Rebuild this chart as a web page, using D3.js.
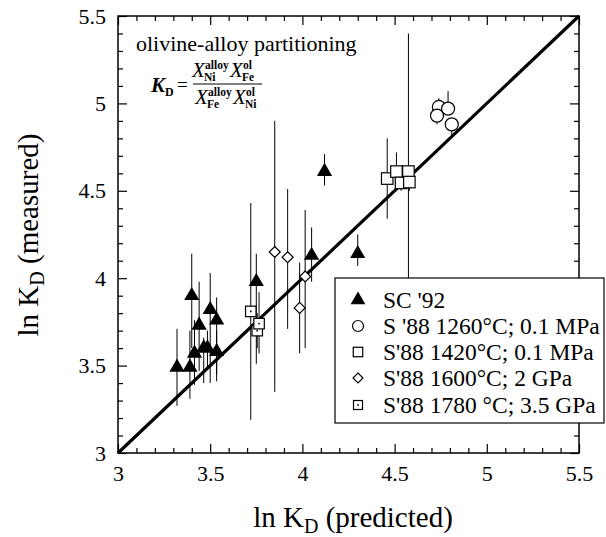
<!DOCTYPE html>
<meta charset="utf-8">
<style>
  body { margin: 0; background: #fff; }
  text { font-family: "Liberation Serif", "Times New Roman", serif; fill: #000; }
  .tick text { font-size: 22px; }
</style>
<svg width="606" height="537"></svg>
<script src="https://d3js.org/d3.v7.min.js"></script>
<script>
  // [predicted, measured, bar low, bar high]
  var sc92 = [
    [3.32, 3.49, 3.27, 3.71],
    [3.39, 3.49, 3.31, 3.70],
    [3.40, 3.90, 3.60, 4.14],
    [3.415, 3.57, 3.39, 3.76],
    [3.44, 3.73, 3.47, 3.98],
    [3.465, 3.60, 3.40, 3.66],
    [3.485, 3.60, 3.48, 3.70],
    [3.50, 3.82, 3.40, 4.03],
    [3.535, 3.76, 3.41, 3.89],
    [3.535, 3.58, 3.45, 3.70],
    [3.75, 3.98, 3.51, 4.14],
    [4.05, 4.13, 3.98, 4.29],
    [4.12, 4.61, 4.53, 4.71],
    [4.30, 4.14, 4.07, 4.25]
  ];
  var s88_1260 = [
    [4.74, 4.98, 4.95, 5.03],
    [4.79, 4.97, 4.95, 5.07],
    [4.73, 4.93, 4.88, 4.96],
    [4.81, 4.88, 4.81, 4.90]
  ];
  var s88_1420 = [
    [4.46, 4.57, 4.34, 4.80],
    [4.51, 4.61, 4.55, 4.72],
    [4.535, 4.545, 4.50, 4.58],
    [4.575, 4.61, 3.70, 5.40],
    [4.58, 4.55, 4.50, 4.58]
  ];
  var s88_1600 = [
    [3.85, 4.15, 3.35, 4.90],
    [3.92, 4.12, 3.71, 4.51],
    [4.015, 4.01, 3.60, 4.39],
    [3.985, 3.83, 3.57, 4.09]
  ];
  var s88_1780 = [
    [3.72, 3.81, 3.19, 4.43],
    [3.765, 3.74, 3.57, 3.92],
    [3.755, 3.70, 3.60, 3.80]
  ];
  var majorTicks = [3, 3.5, 4, 4.5, 5, 5.5];
  var legendLabels = ["SC '92", "S '88 1260\u00b0C; 0.1 MPa", "S'88 1420\u00b0C; 0.1 MPa",
                      "S'88 1600\u00b0C; 2 GPa", "S'88 1780 \u00b0C; 3.5 GPa"];

  var svg = d3.select("svg");
  var x = d3.scaleLinear().domain([3, 5.5]).range([118, 579]);
  var y = d3.scaleLinear().domain([3, 5.5]).range([453, 16]);
  var minorTicks = d3.range(30, 56).map(function(d) { return d / 10; })
    .filter(function(d) { return majorTicks.indexOf(d) < 0; });

  function addAxis(gen, tx, ty, ticks, size, labels) {
    var g = svg.append("g")
      .attr("transform", "translate(" + tx + "," + ty + ")")
      .call(gen.tickValues(ticks).tickSize(-size).tickPadding(labels ? 12 : 0)
        .tickFormat(labels ? d3.format("") : ""));
    g.select(".domain").remove();
    g.selectAll(".tick line").attr("stroke", "#000").attr("stroke-width", 1.2);
    return g;
  }
  // inward ticks on all four sides
  addAxis(d3.axisBottom(x), 0, 453, minorTicks, 5, false);
  addAxis(d3.axisBottom(x), 0, 453, majorTicks, 9, true);
  addAxis(d3.axisTop(x), 0, 16, minorTicks, 5, false);
  addAxis(d3.axisTop(x), 0, 16, majorTicks, 9, false);
  addAxis(d3.axisLeft(y), 118, 0, minorTicks, 5, false);
  addAxis(d3.axisLeft(y), 118, 0, majorTicks, 9, true);
  addAxis(d3.axisRight(y), 579, 0, minorTicks, 5, false);
  addAxis(d3.axisRight(y), 579, 0, majorTicks, 9, false);

  svg.append("rect")
    .attr("x", 118).attr("y", 16).attr("width", 461).attr("height", 437)
    .attr("fill", "none").attr("stroke", "#000").attr("stroke-width", 1.5);

  // error bars
  var all = sc92.concat(s88_1260, s88_1420, s88_1600, s88_1780);
  svg.append("g").selectAll("line").data(all).enter().append("line")
    .attr("x1", function(d) { return x(d[0]); })
    .attr("x2", function(d) { return x(d[0]); })
    .attr("y1", function(d) { return y(d[2]); })
    .attr("y2", function(d) { return y(d[3]); })
    .attr("stroke", "#000").attr("stroke-width", 1);

  // 1:1 line
  svg.append("line")
    .attr("x1", x(3)).attr("y1", y(3)).attr("x2", x(5.5)).attr("y2", y(5.5))
    .attr("stroke", "#000").attr("stroke-width", 3.2);

  function diamond(h) { return "M0," + (-h) + "L" + h + ",0L0," + h + "L" + (-h) + ",0Z"; }

  function drawTri(g, px, py, s) {
    g.append("path").attr("d", d3.symbol().type(d3.symbolTriangle).size(s)())
      .attr("transform", "translate(" + px + "," + py + ")").attr("fill", "#000");
  }
  function drawCircle(g, px, py, r) {
    g.append("circle").attr("cx", px).attr("cy", py).attr("r", r)
      .attr("fill", "#fff").attr("stroke", "#000").attr("stroke-width", 1.2);
  }
  function drawSquare(g, px, py, s) {
    g.append("rect").attr("x", px - s / 2).attr("y", py - s / 2).attr("width", s).attr("height", s)
      .attr("fill", "#fff").attr("stroke", "#000").attr("stroke-width", 1.2);
  }
  function drawDiamond(g, px, py, h) {
    g.append("path").attr("d", diamond(h)).attr("transform", "translate(" + px + "," + py + ")")
      .attr("fill", "#fff").attr("stroke", "#000").attr("stroke-width", 1.2);
  }
  function drawDotSquare(g, px, py, s) {
    drawSquare(g, px, py, s);
    g.append("rect").attr("x", px - 0.8).attr("y", py - 0.8).attr("width", 1.6).attr("height", 1.6)
      .attr("fill", "#000");
  }

  var marks = svg.append("g");
  s88_1600.forEach(function(d) { drawDiamond(marks, x(d[0]), y(d[1]), 5.5); });
  s88_1780.slice().reverse().forEach(function(d) { drawDotSquare(marks, x(d[0]), y(d[1]), 10.5); });
  s88_1420.forEach(function(d) { drawSquare(marks, x(d[0]), y(d[1]), 11.5); });
  s88_1260.forEach(function(d) { drawCircle(marks, x(d[0]), y(d[1]), 6.5); });
  sc92.forEach(function(d) { drawTri(marks, x(d[0]), y(d[1]), 100); });

  // legend
  var lg = svg.append("g");
  lg.append("rect").attr("x", 335).attr("y", 278).attr("width", 269).attr("height", 145)
    .attr("fill", "#fff").attr("stroke", "#000").attr("stroke-width", 1.2);
  var rowY = [300, 326, 352, 378, 405];
  drawTri(lg, 358, rowY[0], 95);
  drawCircle(lg, 358, rowY[1], 5.5);
  drawSquare(lg, 358, rowY[2], 9.5);
  drawDiamond(lg, 358, rowY[3], 5);
  drawDotSquare(lg, 358, rowY[4], 9);
  lg.selectAll("text.lab").data(legendLabels).enter().append("text")
    .attr("class", "lab")
    .attr("x", 383).attr("y", function(d, i) { return rowY[i] + 8; })
    .style("font-size", "23.5px")
    .text(function(d) { return d; });

  // annotation
  svg.append("text").attr("x", 136).attr("y", 51).style("font-size", "22px")
    .text("olivine-alloy partitioning");
  var f = svg.append("g").style("font-size", "21px");
  var kd = f.append("text").attr("x", 151).attr("y", 92);
  kd.append("tspan").style("font-weight", "bold").style("font-style", "italic").text("K");
  kd.append("tspan").attr("dy", 4).style("font-weight", "bold").style("font-size", "12px").text("D");
  f.append("text").attr("x", 177).attr("y", 91).style("font-size", "19px").text("=");
  function xTerm(px, base, sup, sub) {
    f.append("text").attr("x", px).attr("y", base).style("font-style", "italic").text("X");
    f.append("text").attr("x", px + 13).attr("y", base - 8).style("font-weight", "bold")
      .style("font-size", "11.5px").text(sup);
    f.append("text").attr("x", px + 12).attr("y", base + 4).style("font-weight", "bold")
      .style("font-size", "11.5px").text(sub);
  }
  xTerm(192, 77, "alloy", "Ni");
  xTerm(230, 77, "ol", "Fe");
  xTerm(195, 104, "alloy", "Fe");
  xTerm(233, 104, "ol", "Ni");
  f.append("line").attr("x1", 193).attr("x2", 262).attr("y1", 84).attr("y2", 84)
    .attr("stroke", "#000").attr("stroke-width", 1);

  // axis titles
  var xt = svg.append("text").attr("x", 353).attr("y", 527).attr("text-anchor", "middle")
    .style("font-size", "29px");
  xt.append("tspan").text("ln K");
  xt.append("tspan").attr("dy", 6).style("font-size", "20px").text("D");
  xt.append("tspan").attr("dy", -6).text(" (predicted)");
  var yt = svg.append("text").attr("transform", "translate(38,235) rotate(-90)")
    .attr("text-anchor", "middle").style("font-size", "29px");
  yt.append("tspan").text("ln K");
  yt.append("tspan").attr("dy", 6).style("font-size", "20px").text("D");
  yt.append("tspan").attr("dy", -6).text(" (measured)");
</script>
